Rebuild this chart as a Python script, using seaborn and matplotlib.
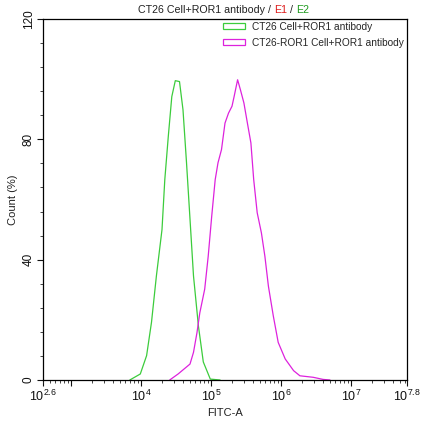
import numpy as np
import pandas as pd
import matplotlib
matplotlib.use("Agg")
import matplotlib.pyplot as plt
import seaborn as sns
from matplotlib.patches import Patch
from matplotlib.ticker import FixedLocator, NullFormatter, MultipleLocator

# ---- data (x in log10 FITC-A units, y in Count %) ----
ctrl_name = "CT26 Cell+ROR1 antibody"
ctrl_log = [3.84, 3.99, 4.08, 4.15, 4.22, 4.30, 4.34, 4.39, 4.44, 4.49, 4.55,
            4.60, 4.65, 4.70, 4.75, 4.82, 4.89, 4.99, 5.13]
ctrl_cnt = [0.0, 2.0, 8.1, 19.2, 34.6, 50.0, 66.6, 81.0, 94.2, 99.5, 99.2,
            89.8, 72.3, 53.5, 34.6, 18.0, 6.0, 0.3, 0.0]

ror1_name = "CT26-ROR1 Cell+ROR1 antibody"
ror1_log = [4.41, 4.53, 4.70, 4.75, 4.80, 4.84, 4.91, 4.96, 5.01, 5.06, 5.10,
            5.15, 5.20, 5.25, 5.30, 5.33, 5.38, 5.42, 5.47, 5.52, 5.57, 5.61,
            5.66, 5.72, 5.77, 5.82, 5.89, 5.96, 6.06, 6.18, 6.27, 6.46, 6.60, 6.70]
ror1_cnt = [0.0, 2.0, 5.3, 9.2, 15.8, 22.3, 30.2, 41.1, 54.4, 66.6, 72.2,
            76.6, 85.4, 88.7, 91.0, 94.2, 99.8, 96.5, 92.1, 85.4, 78.8, 66.6,
            55.6, 48.9, 41.1, 31.2, 21.3, 12.5, 7.0, 3.1, 1.4, 0.9, 0.2, 0.0]

x_major_exp = [2.6, 3, 4, 5, 6, 7, 7.8]
x_major_lbl = ["2.6", "", "4", "5", "6", "7", "7.8"]
y_ticks = [0, 40, 80, 120]

title_parts = ["CT26 Cell+ROR1 antibody / ", "E1", " / ", "E2"]
title_colors = ["#222222", "#dd1c1c", "#222222", "#1f9a1f"]
line_colors = {ctrl_name: "#3ccc3c", ror1_name: "#dd22dd"}

# ---- build table ----
df = pd.concat([
    pd.DataFrame({"fitc": np.power(10.0, ctrl_log), "count": ctrl_cnt, "sample": ctrl_name}),
    pd.DataFrame({"fitc": np.power(10.0, ror1_log), "count": ror1_cnt, "sample": ror1_name}),
], ignore_index=True)

sns.set_style("ticks")
plt.rcParams["font.family"] = ["Liberation Sans", "DejaVu Sans"]
plt.rcParams["mathtext.fontset"] = "custom"
plt.rcParams["mathtext.rm"] = "Liberation Sans"
plt.rcParams["mathtext.it"] = "Liberation Sans"

W, H = 431, 434
fig = plt.figure(figsize=(W / 100, H / 100), dpi=100)
ax = fig.add_axes([43 / W, 1 - 380 / H, (407 - 43) / W, (380 - 19) / H])
ax.set_xscale("log")

sns.lineplot(data=df, x="fitc", y="count", hue="sample", palette=line_colors,
             sort=False, estimator=None, linewidth=0.9, legend=False, ax=ax)

ax.set_xlim(10 ** 2.6, 10 ** 7.8)
ax.set_ylim(0, 120)

# x ticks
ax.xaxis.set_major_locator(FixedLocator([10 ** e for e in x_major_exp]))
ax.set_xticklabels([r"$\mathregular{10^{%s}}$" % l if l else "" for l in x_major_lbl])
minor = [k * 10 ** d for d in range(2, 8) for k in range(2, 10)
         if 10 ** 2.6 < k * 10 ** d < 10 ** 7.8]
ax.xaxis.set_minor_locator(FixedLocator(minor))
ax.xaxis.set_minor_formatter(NullFormatter())

# y ticks
ax.set_yticks(y_ticks)
ax.yaxis.set_minor_locator(MultipleLocator(8))
for lab in ax.get_yticklabels():
    lab.set_rotation(90)
    lab.set_va("center")

ax.tick_params(axis="x", which="major", labelsize=9, pad=2)
ax.tick_params(axis="y", which="major", labelsize=8.5, pad=2)
ax.tick_params(axis="both", which="major", direction="out", length=4, width=0.8,
               colors="#111111")
ax.tick_params(axis="both", which="minor", direction="out", length=2, width=0.6)
for s in ax.spines.values():
    s.set_visible(True)
    s.set_linewidth(0.9)
    s.set_color("black")

ax.set_xlabel("FITC-A", fontsize=8, color="#222222", labelpad=3)
ax.set_ylabel("Count (%)", fontsize=8, color="#222222", labelpad=3)

# legend with outlined boxes
handles = [Patch(facecolor="none", edgecolor=line_colors[n], linewidth=0.9, label=n)
           for n in (ctrl_name, ror1_name)]
ax.legend(handles=handles, loc="upper left", bbox_to_anchor=(223 / W, 1 - 22 / H),
          bbox_transform=fig.transFigure, frameon=False, fontsize=7.3,
          handlelength=2.2, handleheight=0.55, handletextpad=0.7,
          labelspacing=0.55, borderpad=0, borderaxespad=0)

# multi-colour title
prev = fig.text(138 / W, 1 - 13 / H, title_parts[0], color=title_colors[0],
                fontsize=7.7, ha="left", va="baseline")
for txt, col in zip(title_parts[1:], title_colors[1:]):
    prev = ax.annotate(txt, xy=(1, 0), xycoords=prev, ha="left", va="bottom",
                       color=col, fontsize=7.7, annotation_clip=False)

fig.savefig("out.png", dpi=100)
